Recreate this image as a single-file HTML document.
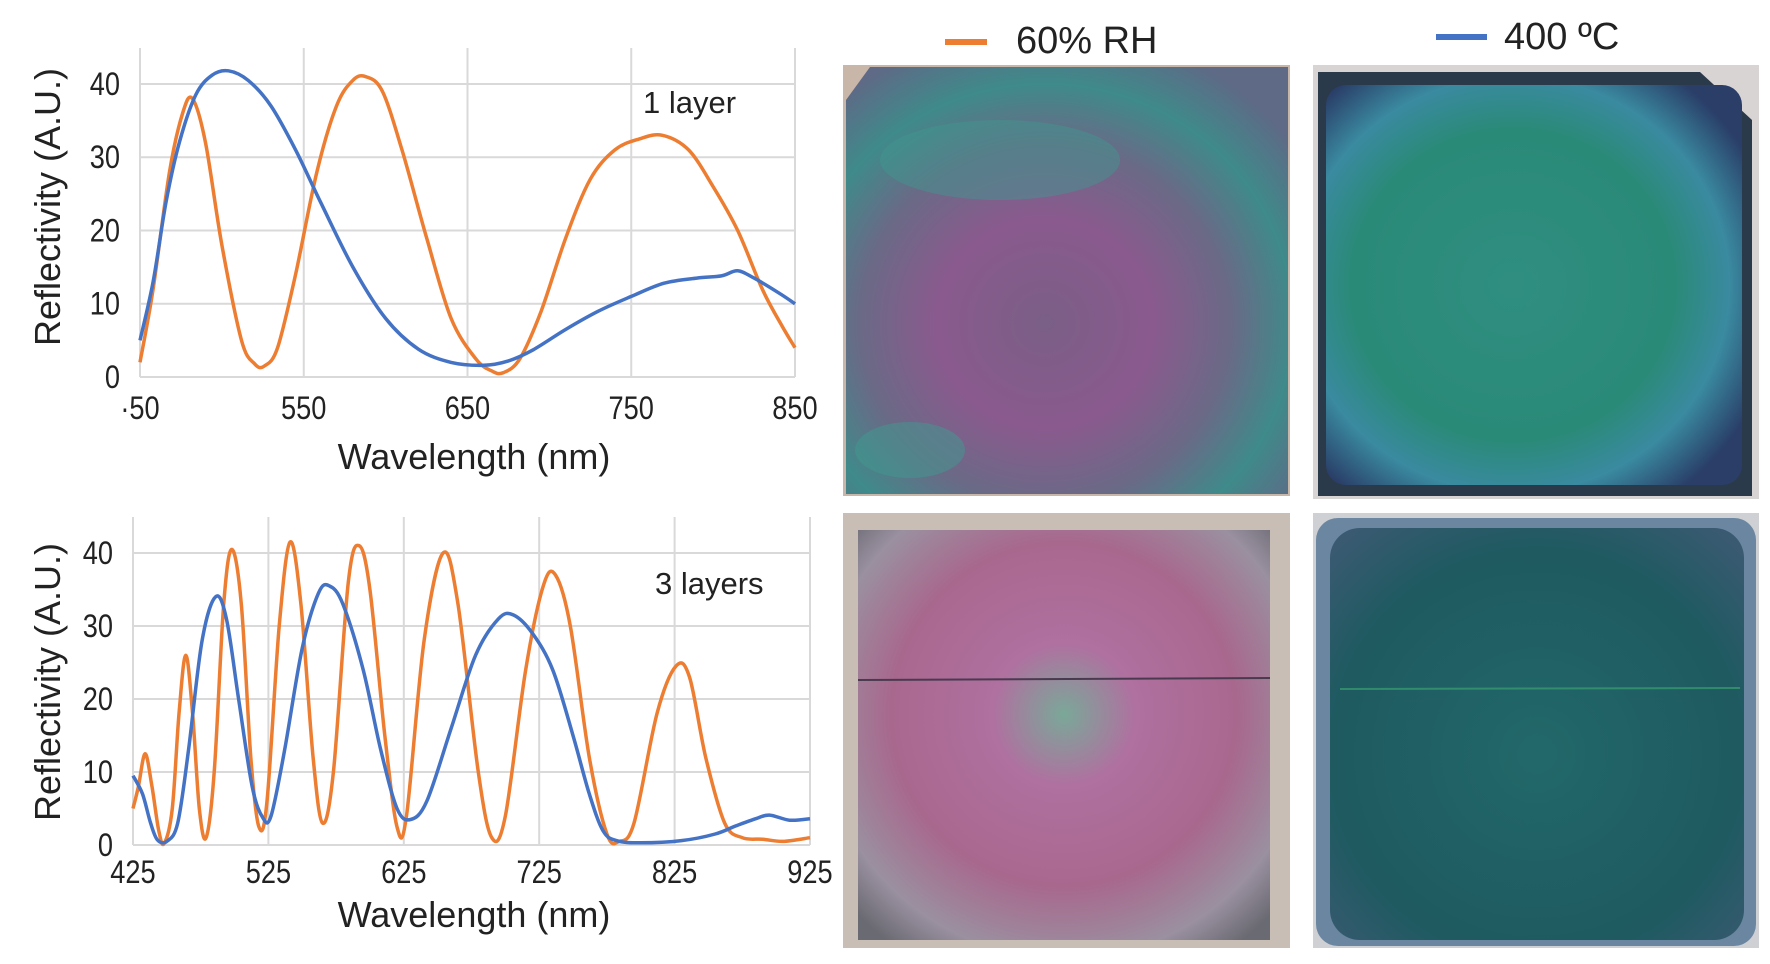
<!DOCTYPE html>
<html><head><meta charset="utf-8"><style>
html,body{margin:0;padding:0;background:#fff;}
svg{display:block;}
text{font-family:"Liberation Sans",sans-serif;fill:#222;}
</style></head><body>
<svg id="s" width="1770" height="964" viewBox="0 0 1770 964" xmlns="http://www.w3.org/2000/svg">
<defs>
<radialGradient id="p1" cx="0.45" cy="0.6" r="0.7">
<stop offset="0" stop-color="#7a5f86"/><stop offset="0.35" stop-color="#8a5a8e"/><stop offset="0.6" stop-color="#6a6a86"/><stop offset="0.8" stop-color="#3f8a8a"/><stop offset="1" stop-color="#5e6a86"/></radialGradient>
<radialGradient id="p2" cx="0.45" cy="0.5" r="0.65">
<stop offset="0" stop-color="#2f8e80"/><stop offset="0.6" stop-color="#2a8a78"/><stop offset="0.8" stop-color="#3a8aa0"/><stop offset="1" stop-color="#2a3e68"/></radialGradient>
<radialGradient id="p3" cx="0.5" cy="0.45" r="0.7">
<stop offset="0" stop-color="#7aa898"/><stop offset="0.25" stop-color="#b070a0"/><stop offset="0.6" stop-color="#a8688e"/><stop offset="0.85" stop-color="#9a90a0"/><stop offset="1" stop-color="#6a6a72"/></radialGradient>
<radialGradient id="p4" cx="0.5" cy="0.55" r="0.7">
<stop offset="0" stop-color="#22686a"/><stop offset="0.7" stop-color="#1e5a60"/><stop offset="1" stop-color="#3a5a72"/></radialGradient>
</defs>
<g id="charts"></g>
<line x1="945" y1="42" x2="987" y2="42" stroke="#ED7D31" stroke-width="6"/>
<text x="1016" y="53" font-size="38">60% RH</text>
<line x1="1436" y1="37" x2="1487" y2="37" stroke="#4472C4" stroke-width="6"/>
<text x="1504" y="49" font-size="38">400 ºC</text>
<rect x="843" y="65" width="447" height="431" fill="#c8b6a8"/>
<polygon points="870,67 1288,67 1288,494 846,494 846,100" fill="url(#p1)"/>
<ellipse cx="1000" cy="160" rx="120" ry="40" fill="#3f9a90" opacity="0.45"/>
<ellipse cx="910" cy="450" rx="55" ry="28" fill="#3f9a90" opacity="0.5"/>
<rect x="1313" y="65" width="446" height="434" fill="#d8d4d4"/>
<polygon points="1318,72 1700,72 1752,120 1752,496 1318,496" fill="#2a3a4a"/>
<rect x="1326" y="85" width="416" height="400" rx="20" fill="url(#p2)"/>
<rect x="843" y="513" width="447" height="435" fill="#c8beb6"/>
<rect x="858" y="530" width="412" height="410" fill="url(#p3)"/>
<line x1="858" y1="680" x2="1270" y2="678" stroke="#4a3a50" stroke-width="2"/>
<rect x="1313" y="513" width="446" height="435" fill="#cfd0d4"/>
<rect x="1316" y="518" width="440" height="428" rx="22" fill="#6a86a0"/>
<rect x="1330" y="528" width="414" height="412" rx="30" fill="url(#p4)"/>
<line x1="1340" y1="689" x2="1740" y2="688" stroke="#3aa070" stroke-width="2" opacity="0.7"/>
</svg>
<script>
const NS="http://www.w3.org/2000/svg";
const g=document.getElementById("charts");
function el(t,a,txt){const e=document.createElementNS(NS,t);for(const k in a)e.setAttribute(k,a[k]);if(txt!==undefined)e.textContent=txt;g.appendChild(e);return e;}
function path(pts,X,Y,col){
 const p=pts.map(q=>[X(q[0]),Y(q[1])]);
 let d="M"+p[0][0]+","+p[0][1];
 for(let i=0;i<p.length-1;i++){
  const p0=p[i-1]||p[i],p1=p[i],p2=p[i+1],p3=p[i+2]||p[i+1];
  const c1=[p1[0]+(p2[0]-p0[0])/6,p1[1]+(p2[1]-p0[1])/6];
  const c2=[p2[0]-(p3[0]-p1[0])/6,p2[1]-(p3[1]-p1[1])/6];
  d+=` C${c1[0].toFixed(1)},${c1[1].toFixed(1)} ${c2[0].toFixed(1)},${c2[1].toFixed(1)} ${p2[0].toFixed(1)},${p2[1].toFixed(1)}`;
 }
 el("path",{d:d,fill:"none",stroke:col,"stroke-width":3.5,"stroke-linejoin":"round"});
}
function chart(o){
 const X=w=>o.x0+(w-o.w0)*(o.x1-o.x0)/(o.w1-o.w0);
 const Y=r=>o.y0-r*(o.y0-o.y40)/40;
 for(let r=0;r<=40;r+=10){el("line",{x1:o.x0,x2:o.x1,y1:Y(r),y2:Y(r),stroke:"#d9d9d9","stroke-width":2});
  el("text",{x:o.x0-20,y:Y(r)+11,"font-size":32,"text-anchor":"end",transform:`translate(${o.x0-20},0) scale(0.85,1) translate(${-(o.x0-20)},0)`},String(r));}
 for(const w of o.ticks){el("line",{x1:X(w),x2:X(w),y1:o.top,y2:o.y0,stroke:"#d9d9d9","stroke-width":2});
  el("text",{x:X(w),y:o.ty,"font-size":32,"text-anchor":"middle",transform:`translate(${X(w)},0) scale(0.85,1) translate(${-X(w)},0)`},o.lab?o.lab(w):String(w));}
 path(o.org,X,Y,"#ED7D31");path(o.blu,X,Y,"#4472C4");
 el("text",{x:474,y:o.wy,"font-size":36,"text-anchor":"middle"},"Wavelength (nm)");
 el("text",{x:0,y:0,"font-size":36,"text-anchor":"middle",transform:`translate(60,${o.ry}) rotate(-90)`},"Reflectivity (A.U.)");
 el("text",{x:o.lx,y:o.ly,"font-size":31},o.label);
}
chart({x0:140,x1:795,w0:450,w1:850,y0:377,y40:84,top:48,ticks:[450,550,650,750,850],lab:w=>w==450?"·50":String(w),ty:419,wy:469,ry:207,lx:643,ly:113,label:"1 layer",
org:[[450,2],[458,12],[468,28],[476,36],[482,38],[490,32],[500,18],[512,5],[520,1.8],[526,1.5],[534,4],[545,14],[558,28],[570,37],[580,40.5],[588,41],[598,39],[610,31],[625,19],[640,8],[655,2.5],[665,0.8],[672,0.6],[682,2.5],[695,9],[710,19],[725,27],[740,31],[755,32.5],[769,33],[785,31],[800,26],[815,20],[830,12],[842,7],[850,4]],
blu:[[450,5],[458,13],[466,24],[474,32],[484,38.5],[494,41.2],[504,41.8],[516,40.5],[530,37],[545,31],[560,24],[580,15],[600,8],[620,3.8],[640,2],[660,1.6],[675,2.2],[690,3.7],[710,6.5],[730,9],[750,11],[770,12.8],[790,13.5],[805,13.8],[815,14.5],[825,13.5],[840,11.5],[850,10]]});
chart({x0:133,x1:810,w0:425,w1:925,y0:845,y40:553,top:517,ticks:[425,525,625,725,825,925],ty:883,wy:927,ry:682,lx:655,ly:594,label:"3 layers",
org:[[425,5],[429,8],[434,12.5],[439,8],[444,2],[448,0.2],[454,5],[459,18],[464,26],[469,18],[474,5],[479,1],[485,10],[492,33],[498,40.5],[505,33],[512,12],[518,2.5],[524,6],[533,30],[541,41.5],[549,33],[558,12],[565,3],[573,10],[584,36],[592,41],[600,35],[611,15],[620,2.5],[627,4],[640,28],[654,40],[665,33],[680,10],[690,1],[700,4],[715,24],[728,35.5],[737,37],[748,30],[762,12],[775,1.5],[784,0.5],[795,3],[812,18],[826,24.5],[836,23],[848,12],[862,3],[875,1],[890,0.8],[905,0.5],[925,1]],
blu:[[425,9.5],[432,7],[438,3],[443,0.7],[450,0.5],[458,3],[466,13],[476,28],[486,34],[494,31],[503,20],[513,8],[521,3.7],[527,4],[537,13],[550,27],[562,34.5],[570,35.5],[580,33],[595,24],[608,13],[620,5],[630,3.5],[642,6],[660,16],[678,26],[695,31],[706,31.5],[720,29],[735,24],[750,15],[762,7],[772,2],[782,0.6],[800,0.3],[830,0.6],[855,1.5],[870,2.6],[885,3.6],[895,4.1],[910,3.4],[925,3.6]]});
</script>
</body></html>
